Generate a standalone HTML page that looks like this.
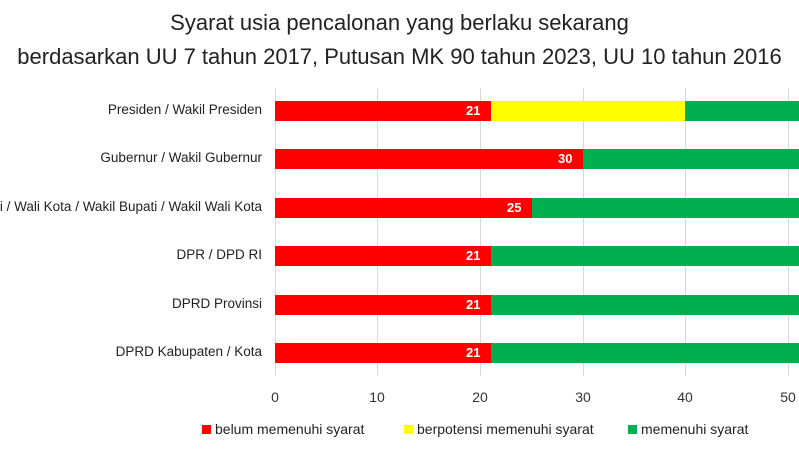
<!DOCTYPE html>
<html><head><style>
body{margin:0;background:#fff;width:799px;height:450px;overflow:hidden;position:relative;font-family:"Liberation Sans",sans-serif;}
.t{position:absolute;left:0;width:799px;text-align:center;font-size:22px;color:#222;}
.g{position:absolute;top:88px;height:288px;width:1px;background:#d9d9d9;}
.lab{position:absolute;right:537px;font-size:13.5px;color:#222;white-space:nowrap;}
.bar{position:absolute;height:20px;}
.v{position:absolute;color:#fff;font-weight:bold;font-size:13px;}
.tk{position:absolute;top:389px;font-size:14px;color:#333;width:30px;margin-left:-15px;text-align:center;}
.lg{position:absolute;top:421px;font-size:14px;color:#222;}
.sq{display:inline-block;width:9px;height:9px;margin-right:4px;}
</style></head><body>
<div class="t" style="top:10px">Syarat usia pencalonan yang berlaku sekarang</div>
<div class="t" style="top:44px">berdasarkan UU 7 tahun 2017, Putusan MK 90 tahun 2023, UU 10 tahun 2016</div>
<div class="g" style="left:275px"></div><div class="g" style="left:377px"></div><div class="g" style="left:480px"></div><div class="g" style="left:583px"></div><div class="g" style="left:685px"></div><div class="g" style="left:788px"></div>

<div class="lab" style="top:102px">Presiden / Wakil Presiden</div>
<div class="bar" style="top:101px;left:275px;width:216px;background:#f00"></div>
<div class="bar" style="top:101px;left:491px;width:194px;background:#ff0"></div>
<div class="bar" style="top:101px;left:685px;width:114px;background:#00b050"></div>
<div class="v" style="top:103px;left:466px">21</div>

<div class="lab" style="top:150px">Gubernur / Wakil Gubernur</div>
<div class="bar" style="top:149px;left:275px;width:308px;background:#f00"></div>
<div class="bar" style="top:149px;left:583px;width:216px;background:#00b050"></div>
<div class="v" style="top:151px;left:558px">30</div>

<div class="lab" style="top:199px">Bupati / Wali Kota / Wakil Bupati / Wakil Wali Kota</div>
<div class="bar" style="top:198px;left:275px;width:257px;background:#f00"></div>
<div class="bar" style="top:198px;left:532px;width:267px;background:#00b050"></div>
<div class="v" style="top:200px;left:507px">25</div>

<div class="lab" style="top:247px">DPR / DPD RI</div>
<div class="bar" style="top:246px;left:275px;width:216px;background:#f00"></div>
<div class="bar" style="top:246px;left:491px;width:308px;background:#00b050"></div>
<div class="v" style="top:248px;left:466px">21</div>

<div class="lab" style="top:296px">DPRD Provinsi</div>
<div class="bar" style="top:295px;left:275px;width:216px;background:#f00"></div>
<div class="bar" style="top:295px;left:491px;width:308px;background:#00b050"></div>
<div class="v" style="top:297px;left:466px">21</div>

<div class="lab" style="top:344px">DPRD Kabupaten / Kota</div>
<div class="bar" style="top:343px;left:275px;width:216px;background:#f00"></div>
<div class="bar" style="top:343px;left:491px;width:308px;background:#00b050"></div>
<div class="v" style="top:345px;left:466px">21</div>

<div class="tk" style="left:275px">0</div><div class="tk" style="left:377px">10</div><div class="tk" style="left:480px">20</div><div class="tk" style="left:583px">30</div><div class="tk" style="left:685px">40</div><div class="tk" style="left:788px">50</div>

<div class="lg" style="left:202px"><span class="sq" style="background:#f00"></span>belum memenuhi syarat</div>
<div class="lg" style="left:404px"><span class="sq" style="background:#ff0"></span>berpotensi memenuhi syarat</div>
<div class="lg" style="left:628px"><span class="sq" style="background:#00b050"></span>memenuhi syarat</div>
</body></html>
